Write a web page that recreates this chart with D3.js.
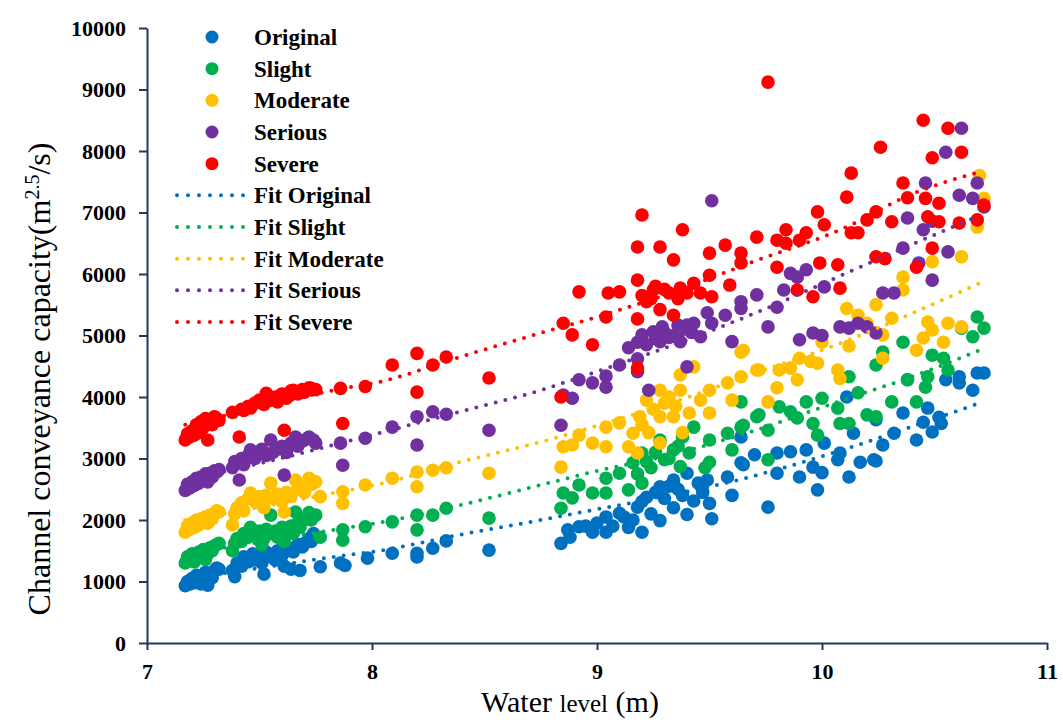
<!DOCTYPE html>
<html>
<head>
<meta charset="utf-8">
<script src="https://cdn.jsdelivr.net/npm/d3@7"></script>
<style>
  body { margin: 0; background: #fff; }
  text { font-family: "Liberation Serif", "Times New Roman", serif; }
</style>
</head>
<body>
<div class="chart"></div>
<script>
var svgWidth = 1063;
var svgHeight = 722;

var margin = { top: 28, right: 16, bottom: 79, left: 147 };
var width = svgWidth - margin.left - margin.right;
var height = svgHeight - margin.top - margin.bottom;

// series names / colours
var seriesNames = ["Original", "Slight", "Moderate", "Serious", "Severe"];
var seriesColors = ["#0070C0", "#00B050", "#FFC000", "#7030A0", "#FF0000"];

// tick labels
var xTicks = [7, 8, 9, 10, 11];
var yTicks = [0, 1000, 2000, 3000, 4000, 5000, 6000, 7000, 8000, 9000, 10000];

// scatter points [water level, capacity]
var original = [
  [7.17,930],[7.18,1000],[7.19,960],[7.2,1050],[7.21,980],[7.22,1100],[7.23,1020],[7.24,960],[7.25,1080],[7.26,1150],
  [7.27,1000],[7.28,1120],[7.29,1060],[7.3,1180],[7.31,1220],[7.32,1200],[7.27,940],
  [7.38,1180],[7.39,1080],[7.4,1300],[7.42,1250],[7.43,1400],[7.45,1320],[7.47,1450],[7.48,1350],[7.5,1400],[7.51,1300],
  [7.52,1120],[7.53,1480],[7.55,1400],[7.57,1350],[7.58,1500],[7.6,1420],[7.61,1250],[7.62,1500],[7.63,1550],[7.64,1200],
  [7.65,1480],[7.67,1600],[7.68,1180],[7.69,1560],[7.7,1620],[7.72,1700],[7.73,1650],[7.74,1780],
  [7.77,1240],[7.86,1300],[7.88,1260],[7.98,1380],[8.09,1460],[8.2,1460],[8.2,1400],[8.27,1540],[8.33,1660],[8.52,1510],
  [8.84,1620],[8.87,1840],[8.88,1720],[8.92,1890],[8.95,1900],[8.98,1800],[9.0,1950],[9.04,2050],[9.04,1800],[9.07,1900],
  [9.1,2110],[9.12,2050],[9.14,1880],[9.16,2000],[9.18,2210],[9.2,1800],[9.2,2300],[9.22,2370],[9.24,2100],[9.26,2450],
  [9.28,2540],[9.28,1990],[9.3,2350],[9.32,2550],[9.34,2650],[9.34,2200],[9.36,2500],[9.38,2400],[9.4,2760],[9.4,2090],
  [9.43,2310],[9.45,2600],[9.47,2450],[9.49,2650],[9.5,2270],[9.51,2020],[9.58,2700],[9.6,2400],[9.64,2930],[9.64,3350],
  [9.65,2900],[9.7,3060],[9.76,2210],[9.8,3090],[9.8,2760],[9.86,3110],[9.9,2700],[9.93,3140],[9.96,2860],[9.98,2490],
  [10.0,2770],[10.01,3250],[10.07,2980],[10.08,3090],[10.12,2700],[10.11,4000],[10.14,3410],[10.17,2940],[10.23,2980],
  [10.24,2960],[10.27,3220],[10.24,3630],[10.32,3410],[10.36,3740],[10.38,4280],[10.42,3300],[10.45,3590],[10.47,3820],
  [10.49,3430],[10.52,3670],[10.53,3570],[10.55,4280],[10.61,4330],[10.61,4230],[10.67,4110],[10.69,4390],[10.72,4390]
];

var slight = [
  [7.17,1300],[7.18,1400],[7.19,1350],[7.2,1450],[7.21,1320],[7.22,1380],[7.23,1480],[7.24,1420],[7.25,1520],[7.26,1360],
  [7.27,1450],[7.28,1550],[7.29,1500],[7.3,1580],[7.31,1600],[7.32,1620],
  [7.38,1500],[7.39,1620],[7.4,1700],[7.42,1650],[7.43,1780],[7.45,1720],[7.46,1880],[7.48,1760],[7.5,1820],[7.51,1600],
  [7.52,1700],[7.53,1850],[7.55,1780],[7.55,2080],[7.57,1820],[7.58,1720],[7.6,1880],[7.61,1650],[7.62,1850],[7.64,1900],
  [7.65,1780],[7.66,2130],[7.67,1950],[7.68,1880],[7.7,2000],[7.71,2050],[7.72,2120],[7.73,2000],[7.75,2080],
  [7.77,1720],[7.87,1670],[7.87,1840],[7.97,1890],[8.09,1970],[8.2,2080],[8.2,1840],[8.27,2080],[8.33,2190],[8.52,2030],
  [8.84,2190],[8.85,2440],[8.89,2360],[8.92,2570],[8.98,2440],[9.04,2440],[9.04,2680],[9.1,2760],[9.14,2490],[9.16,2930],
  [9.18,2750],[9.2,2600],[9.2,3090],[9.22,2950],[9.24,2850],[9.26,3100],[9.28,3300],[9.3,2980],[9.32,3000],[9.34,3140],
  [9.36,3200],[9.37,2870],[9.38,3350],[9.41,3090],[9.43,3510],[9.48,2850],[9.5,2940],[9.5,3300],[9.58,3410],[9.6,3140],
  [9.64,3510],[9.64,3920],[9.71,3680],
  [9.65,3540],[9.72,3710],[9.76,2980],[9.76,3460],[9.81,3840],[9.86,3760],[9.89,3660],[9.93,3920],[9.96,3570],[9.98,3380],
  [10.0,3980],[10.07,3820],[10.08,3570],[10.12,3570],[10.12,4330],[10.16,4070],[10.2,3710],[10.24,3680],[10.24,4520],
  [10.27,4730],[10.31,3920],[10.36,4890],[10.38,4280],[10.42,3920],[10.46,4160],[10.47,4330],[10.49,4680],[10.54,4630],
  [10.56,4440],[10.62,5120],[10.67,4980],[10.69,5300],[10.72,5120]
];

var moderate = [
  [7.17,1800],[7.18,1900],[7.19,1850],[7.2,1950],[7.21,1880],[7.22,2000],[7.23,1920],[7.24,2020],[7.25,1980],[7.26,2050],
  [7.27,1950],[7.28,2080],[7.29,2020],[7.3,2100],[7.31,2150],[7.32,2130],
  [7.38,1920],[7.39,2100],[7.4,2200],[7.42,2280],[7.43,2150],[7.45,2350],[7.46,2440],[7.48,2300],[7.5,2380],[7.51,2250],
  [7.52,2200],[7.53,2400],[7.55,2600],[7.56,2350],[7.58,2420],[7.6,2300],[7.61,2130],[7.62,2450],[7.64,2380],[7.66,2650],
  [7.67,2500],[7.69,2550],[7.7,2450],[7.72,2680],[7.73,2580],[7.75,2620],
  [7.77,2380],[7.87,2460],[7.87,2270],[7.97,2570],[8.09,2680],[8.2,2780],[8.2,2540],[8.27,2810],[8.33,2850],[8.52,2760],
  [8.84,2860],[8.85,3190],[8.89,3220],[8.92,3380],[8.98,3250],[9.04,3510],[9.04,3190],[9.1,3580],[9.14,3190],[9.16,3410],
  [9.18,3090],[9.19,3680],[9.2,3550],[9.22,3950],[9.23,3420],[9.25,3800],[9.28,4110],[9.28,3680],[9.28,3250],[9.3,3900],
  [9.32,4000],[9.34,3680],[9.35,3850],[9.37,4360],[9.37,4110],[9.38,3420],[9.41,3740],[9.43,4490],[9.46,3950],[9.5,3740],
  [9.5,4110],[9.58,4230],[9.6,3950],[9.64,4330],[9.64,4730],[9.71,4440],
  [9.65,4760],[9.72,4440],[9.76,3920],[9.8,4150],[9.81,4440],[9.86,4470],[9.89,4280],[9.9,4630],[9.95,4580],[9.98,4550],
  [10.0,4890],[10.07,4440],[10.08,4300],[10.11,5440],[10.12,4830],[10.16,5330],[10.2,5200],[10.24,5500],[10.27,4630],
  [10.27,5010],[10.31,5280],[10.36,5740],[10.36,5950],[10.42,4760],[10.45,4960],[10.47,5220],[10.49,5090],[10.49,6200],
  [10.54,4890],[10.56,5200],[10.62,5140],[10.62,6280],[10.69,6760],[10.72,7230],[10.7,7600]
];

var serious = [
  [7.17,2480],[7.18,2580],[7.19,2520],[7.2,2620],[7.21,2560],[7.22,2680],[7.23,2600],[7.24,2700],[7.25,2650],[7.26,2750],
  [7.27,2620],[7.28,2760],[7.29,2700],[7.3,2800],[7.31,2780],[7.32,2820],
  [7.38,2850],[7.39,2950],[7.41,2650],[7.42,3000],[7.43,2900],[7.45,3050],[7.46,3140],[7.48,3000],[7.5,3080],[7.51,3150],
  [7.53,3050],[7.55,3300],[7.56,3100],[7.58,3150],[7.6,3200],[7.61,2730],[7.62,3100],[7.64,3250],[7.66,3350],[7.67,3200],
  [7.69,3280],[7.7,3300],[7.72,3350],[7.74,3300],[7.75,3250],
  [7.86,3250],[7.87,2890],[7.97,3330],[8.09,3510],[8.2,3680],[8.2,3220],[8.27,3760],[8.33,3720],[8.52,3460],
  [8.84,3540],[8.85,4030],[8.89,3980],[8.92,4280],[8.98,4230],[9.04,4160],[9.04,4340],[9.1,4520],[9.14,4800],[9.18,4620],
  [9.18,4410],[9.18,4890],[9.2,5010],[9.22,4850],[9.23,4110],[9.25,5060],[9.26,4950],[9.28,4900],[9.29,5140],[9.3,5050],
  [9.32,4970],[9.34,5000],[9.36,5170],[9.37,4900],[9.38,5100],[9.4,5170],[9.4,4490],[9.42,5050],[9.43,5200],[9.46,4980],
  [9.49,5370],[9.51,5200],[9.51,7190],[9.57,5330],[9.6,4900],[9.64,5550],[9.64,5440],[9.71,5660],
  [9.76,5140],[9.8,5460],[9.83,5740],[9.86,6010],[9.89,5950],[9.93,6070],[9.9,4930],[9.96,5040],[10.0,5000],[10.01,5790],
  [10.08,5140],[10.12,5120],[10.16,5200],[10.2,5140],[10.24,5040],[10.27,5690],[10.32,5690],[10.36,6420],[10.38,6910],
  [10.43,6180],[10.45,6720],[10.46,7480],[10.49,6860],[10.49,5900],[10.56,6360],[10.55,7980],[10.61,7280],[10.62,8370],
  [10.69,7480],[10.67,7230],[10.72,7090]
];

var severe = [
  [7.17,3300],[7.18,3400],[7.19,3350],[7.2,3450],[7.21,3380],[7.22,3550],[7.23,3420],[7.24,3600],[7.25,3500],[7.26,3650],
  [7.27,3300],[7.28,3600],[7.29,3550],[7.3,3680],[7.31,3650],[7.32,3620],
  [7.38,3750],[7.41,3350],[7.42,3800],[7.43,3780],[7.45,3850],[7.46,3820],[7.48,3900],[7.5,3950],[7.52,3880],[7.53,4060],
  [7.55,3950],[7.57,4000],[7.58,3920],[7.6,4050],[7.61,3460],[7.62,3980],[7.64,4100],[7.65,4110],[7.67,4050],[7.69,4120],
  [7.7,4080],[7.72,4150],[7.73,4140],[7.75,4120],
  [7.86,4140],[7.87,3570],[7.97,4170],[8.09,4520],[8.2,4710],[8.2,4080],[8.27,4520],[8.33,4650],[8.52,4310],
  [8.84,4000],[8.85,5200],[8.89,5010],[8.92,5710],[8.98,4850],[9.04,5300],[9.05,5690],[9.1,5710],[9.18,4470],[9.18,5270],
  [9.18,5900],[9.18,6440],[9.2,6960],[9.2,5650],[9.22,5550],[9.24,5600],[9.25,5740],[9.26,5800],[9.28,6440],[9.28,5420],
  [9.3,5750],[9.32,5690],[9.34,6230],[9.34,5330],[9.36,5600],[9.37,5770],[9.38,6720],[9.4,5690],[9.43,5850],[9.46,5690],
  [9.5,6340],[9.5,5980],[9.51,5630],[9.57,6470],[9.59,5820],[9.64,6340],[9.64,6180],[9.71,6600],
  [9.76,9120],[9.8,6550],[9.8,6110],[9.84,6720],[9.84,6500],[9.89,5740],[9.9,6550],[9.93,6670],[9.96,5630],[9.98,7010],
  [9.99,6180],[10.01,6800],[10.07,6150],[10.08,5770],[10.11,7250],[10.13,7640],[10.13,6670],[10.16,6670],[10.2,6880],
  [10.24,6280],[10.24,7010],[10.26,8060],[10.28,6250],[10.31,6850],[10.36,7480],[10.38,7240],[10.42,6110],[10.45,8500],
  [10.46,7230],[10.47,6930],[10.49,7890],[10.49,6420],[10.52,7150],[10.52,6850],[10.56,8370],[10.62,7980],[10.61,6830],
  [10.69,6880],[10.72,7120]
];

// fitted trend lines, read at these water levels
var fitX = [7.17, 7.5, 7.83, 8.05, 8.39, 8.75, 8.98, 9.35, 9.68, 10.1, 10.4, 10.7];
var fitOriginal = [1050, 1220, 1400, 1510, 1760, 2000, 2160, 2420, 2700, 3150, 3520, 3900];
var fitSlight = [1450, 1640, 1840, 1970, 2240, 2570, 2780, 3080, 3430, 3960, 4330, 4760];
var fitModerate = [2000, 2210, 2440, 2600, 2940, 3270, 3510, 3930, 4360, 4900, 5360, 5850];
var fitSerious = [2650, 2920, 3220, 3430, 3760, 4110, 4390, 4860, 5330, 6000, 6480, 6950];
var fitSevere = [3550, 3830, 4110, 4260, 4650, 5040, 5280, 5720, 6180, 6750, 7300, 7660];

var scatterSets = [original, slight, moderate, serious, severe];
var fitSets = [fitOriginal, fitSlight, fitModerate, fitSerious, fitSevere];

var axisColor = "#1F3864";

var svg = d3
  .select(".chart")
  .append("svg")
  .attr("width", svgWidth)
  .attr("height", svgHeight)
  .style("display", "block");

var chartGroup = svg
  .append("g")
  .attr("transform", `translate(${margin.left}, ${margin.top})`);

var xScale = d3.scaleLinear().domain([7, 11]).range([0, width]);
var yScale = d3.scaleLinear().domain([0, 10000]).range([height, 0]);

// axes (plain integers, no separators)
var leftAxis = d3.axisLeft(yScale).tickValues(yTicks).tickFormat(d3.format("d"))
  .tickSize(8).tickSizeOuter(0).tickPadding(13);
var bottomAxis = d3.axisBottom(xScale).tickValues(xTicks).tickFormat(d3.format("d"))
  .tickSize(7).tickSizeOuter(0).tickPadding(13);

var yAxis = chartGroup.append("g").call(leftAxis);
var xAxis = chartGroup.append("g").attr("transform", `translate(0,${height})`).call(bottomAxis);

[xAxis, yAxis].forEach(function (ax) {
  ax.select(".domain").attr("stroke", axisColor).attr("stroke-width", 2);
  ax.selectAll(".tick line").attr("stroke", axisColor).attr("stroke-width", 2);
  ax.selectAll(".tick text")
    .attr("fill", "#000")
    .style("font-family", "'Liberation Serif', serif")
    .style("font-weight", "bold")
    .style("font-size", "22px");
});

// scatter points, one group per series
scatterSets.forEach(function (set, i) {
  chartGroup
    .append("g")
    .selectAll("circle")
    .data(set)
    .enter()
    .append("circle")
    .attr("cx", (d) => xScale(d[0]))
    .attr("cy", (d) => yScale(d[1]))
    .attr("r", 6.8)
    .attr("fill", seriesColors[i]);
});

// dotted fit lines
var fitLine = d3
  .line()
  .curve(d3.curveMonotoneX)
  .x((d) => xScale(d[0]))
  .y((d) => yScale(d[1]));

fitSets.forEach(function (vals, i) {
  chartGroup
    .append("path")
    .datum(fitX.map((x, j) => [x, vals[j]]))
    .attr("fill", "none")
    .attr("stroke", seriesColors[i])
    .attr("stroke-width", 4)
    .attr("stroke-linecap", "round")
    .attr("stroke-dasharray", "0 10")
    .attr("d", fitLine);
});

// legend
var legend = svg.append("g");
var rowY = (k) => 37 + k * 31.67;

seriesNames.forEach(function (name, i) {
  legend.append("circle")
    .attr("cx", 212)
    .attr("cy", rowY(i))
    .attr("r", 6.5)
    .attr("fill", seriesColors[i]);
  legend.append("text")
    .attr("x", 254)
    .attr("y", rowY(i))
    .attr("dy", "0.35em")
    .style("font-weight", "bold")
    .style("font-size", "23px")
    .text(name);
});

seriesNames.forEach(function (name, i) {
  var y = rowY(i + 5);
  legend.append("line")
    .attr("x1", 177)
    .attr("x2", 244)
    .attr("y1", y)
    .attr("y2", y)
    .attr("stroke", seriesColors[i])
    .attr("stroke-width", 4)
    .attr("stroke-linecap", "round")
    .attr("stroke-dasharray", "0 11");
  legend.append("text")
    .attr("x", 254)
    .attr("y", y)
    .attr("dy", "0.35em")
    .style("font-weight", "bold")
    .style("font-size", "23px")
    .text("Fit " + name);
});

// axis titles
var yTitle = svg
  .append("text")
  .attr("transform", "translate(50, 379) rotate(-90)")
  .attr("text-anchor", "middle")
  .style("font-size", "32px");
yTitle.append("tspan").text("Channel conveyance capacity(m");
yTitle.append("tspan").attr("baseline-shift", "super").style("font-size", "20px").text("2.5");
yTitle.append("tspan").text("/s)");

var xTitle = svg
  .append("text")
  .attr("x", 570)
  .attr("y", 712)
  .attr("text-anchor", "middle")
  .style("font-size", "30px");
xTitle.append("tspan").text("Water ");
xTitle.append("tspan").style("font-size", "25px").text("level");
xTitle.append("tspan").text(" (m)");
</script>
</body>
</html>
